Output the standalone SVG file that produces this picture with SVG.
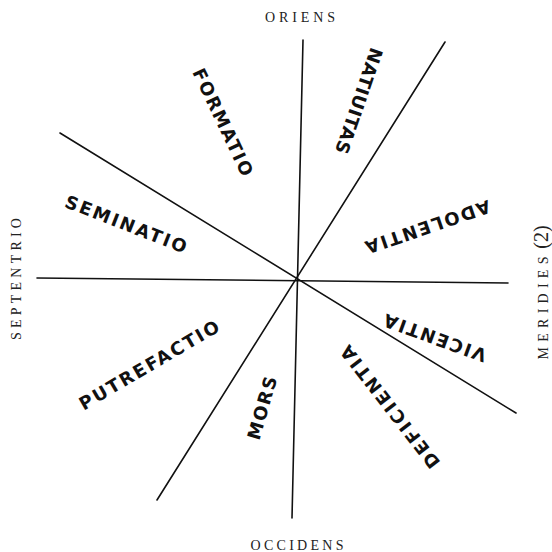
<svg xmlns="http://www.w3.org/2000/svg" width="552" height="552" viewBox="0 0 552 552">
<style>
.ln{stroke:#111;stroke-width:1.6;fill:none;stroke-linecap:round}
.w{font-family:"DejaVu Sans","Liberation Sans",sans-serif;font-weight:bold;font-size:18px;fill:#111;text-anchor:middle}
.c{font-family:"Liberation Serif","DejaVu Serif",serif;font-size:14px;fill:#222;text-anchor:middle}
</style>
<rect width="552" height="552" fill="#fff"/>
<g id="connectors">
<line class="ln" x1="303" y1="40" x2="292" y2="518"/>
<line class="ln" x1="37" y1="278" x2="508" y2="283"/>
<line class="ln" x1="445" y1="42" x2="157" y2="500"/>
<line class="ln" x1="60" y1="133" x2="516" y2="413"/>
</g>
<g id="oriens"><text class="c" x="300" y="22" textLength="70" lengthAdjust="spacing">ORIENS</text></g>
<g id="occidens"><text class="c" x="297" y="550" textLength="93" lengthAdjust="spacing">OCCIDENS</text></g>
<g id="septentrio"><text class="c" transform="translate(21,279) rotate(-90)" x="0" y="0" textLength="122" lengthAdjust="spacing">SEPTENTRIO</text></g>
<g id="meridies"><text class="c" transform="translate(548,308) rotate(-90)" x="0" y="0" textLength="103" lengthAdjust="spacing">MERIDIES</text><text class="c" style="font-size:20px" transform="translate(548,237) rotate(-90)" x="0" y="0">(2)</text></g>
<g id="formatio"><text class="w" transform="translate(223,122) rotate(64.6)" y="6.5" textLength="117" lengthAdjust="spacing">FORMATIO</text></g>
<g id="natiuitas"><text class="w" transform="translate(359,101) rotate(109)" y="6.5" textLength="111" lengthAdjust="spacing">NATIUITAS</text></g>
<g id="seminatio"><text class="w" transform="translate(126,224) rotate(21.3)" y="6.5" textLength="129" lengthAdjust="spacing">SEMINATIO</text></g>
<g id="adolentia"><text class="w" transform="translate(428,227) rotate(161.1)" y="6.5" textLength="131" lengthAdjust="spacing">ADOLENTIA</text></g>
<g id="vicentia"><text class="w" transform="translate(435,338) rotate(200)" y="6.5" textLength="108" lengthAdjust="spacing">VICENTIA</text></g>
<g id="putrefactio"><text class="w" transform="translate(149,365) rotate(-30.4)" y="6.5" textLength="159" lengthAdjust="spacing">PUTREFACTIO</text></g>
<g id="mors"><text class="w" transform="translate(262,408) rotate(-74)" y="6.5" textLength="65" lengthAdjust="spacing">MORS</text></g>
<g id="deficientia"><text class="w" transform="translate(390,407) rotate(-127.8)" y="6.5" textLength="150" lengthAdjust="spacing">DEFICIENTIA</text></g>
</svg>
